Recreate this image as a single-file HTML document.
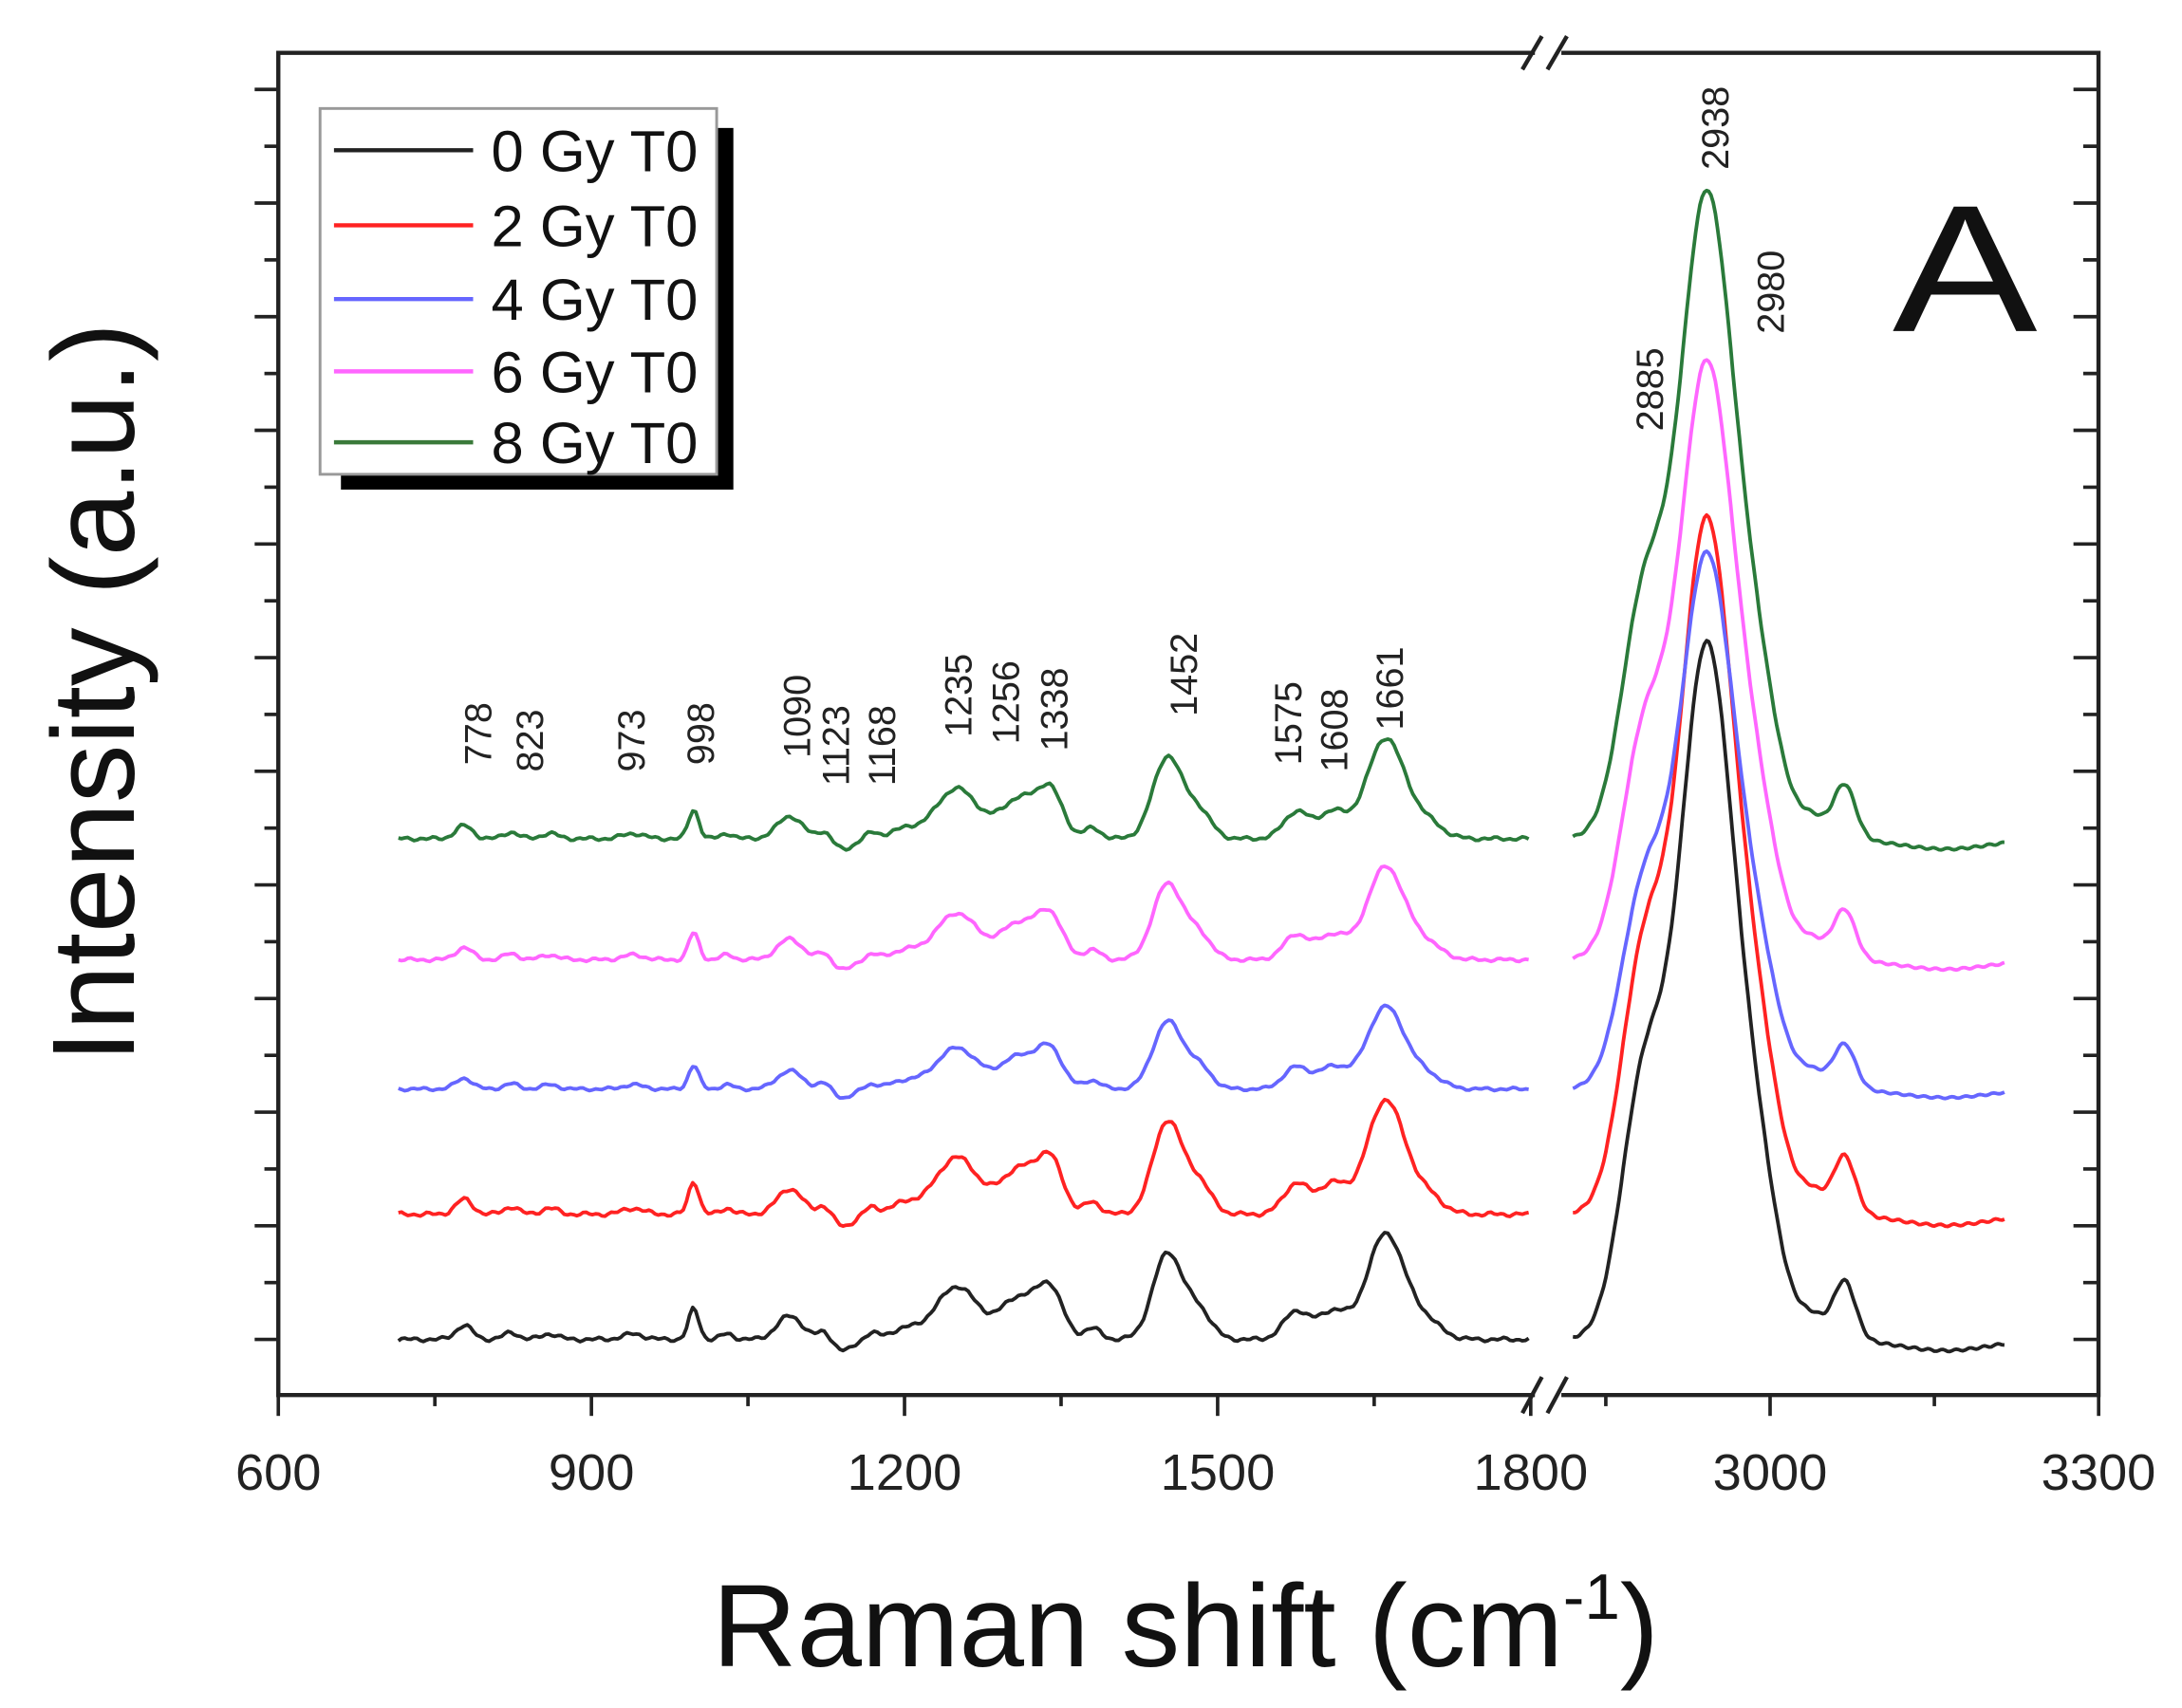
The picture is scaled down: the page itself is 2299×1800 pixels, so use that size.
<!DOCTYPE html>
<html><head><meta charset="utf-8"><style>
html,body{margin:0;padding:0;background:#fff;}
svg{display:block;font-family:"Liberation Sans",Arial,sans-serif;}
</style></head><body>
<svg id="s" width="2299" height="1800" viewBox="0 0 1568 1228" preserveAspectRatio="none" xmlns="http://www.w3.org/2000/svg">
<rect width="1568" height="1228" fill="#fff"/>
<g id="curves" fill="none" stroke-width="2.6" stroke-linejoin="round"></g>
<g id="axes" stroke="#222" fill="none"></g>
<g stroke="#222" stroke-width="3" fill="none">
<path d="M1103 38 H200 V1003 H1103"/>
<path d="M1122 38 H1508 V1003 H1122"/>
</g>
<g stroke="#222" stroke-width="3">
<line x1="1094" y1="50" x2="1108" y2="26"/><line x1="1112" y1="50" x2="1126" y2="26"/>
<line x1="1094" y1="1016" x2="1108" y2="990"/><line x1="1112" y1="1016" x2="1126" y2="990"/>
</g>
<g font-size="37" fill="#222" text-anchor="middle">
<text x="200" y="1071">600</text><text x="425" y="1071">900</text><text x="650" y="1071">1200</text>
<text x="875" y="1071">1500</text><text x="1100" y="1071">1800</text><text x="1272" y="1071">3000</text><text x="1508" y="1071">3300</text>
</g>
<text x="852" y="1198" font-size="84" text-anchor="middle" fill="#111">Raman shift (cm<tspan dy="-34" font-size="46">-1</tspan><tspan dy="34">)</tspan></text>
<text transform="translate(96,498) rotate(-90)" font-size="84" text-anchor="middle" fill="#111">Intensity (a.u.)</text>
<text transform="translate(1412,238) scale(1.2,1)" font-size="130" text-anchor="middle" fill="#111">A</text>
<rect x="245" y="92" width="282" height="260" fill="#000"/>
<rect x="230" y="78" width="285" height="263" fill="#fff" stroke="#999" stroke-width="2"/>
<g stroke-width="3">
<line x1="240" y1="108" x2="340" y2="108" stroke="#222"/>
<line x1="240" y1="162" x2="340" y2="162" stroke="#f22"/>
<line x1="240" y1="215" x2="340" y2="215" stroke="#66f"/>
<line x1="240" y1="267" x2="340" y2="267" stroke="#f6f"/>
<line x1="240" y1="318" x2="340" y2="318" stroke="#3a7a3a"/>
</g>
<g font-size="42" fill="#111">
<text x="353" y="123">0 Gy T0</text><text x="353" y="177">2 Gy T0</text><text x="353" y="230">4 Gy T0</text>
<text x="353" y="282">6 Gy T0</text><text x="353" y="333">8 Gy T0</text>
</g>
<g id="labels" font-size="27" fill="#222"></g>
<script>
var s='http://www.w3.org/2000/svg';
function el(p,t,a,tx){var e=document.createElementNS(s,t);for(var k in a)e.setAttribute(k,a[k]);if(tx)e.textContent=tx;document.getElementById(p).appendChild(e);return e;}
for(var i=0;i<=24;i++){var y=963-i*40.85;if(y<40)break;var mj=i%2==0;
el('axes','line',{x1:mj?183:190,y1:y,x2:200,y2:y,'stroke-width':2.5});
el('axes','line',{x1:1508,y1:y,x2:mj?1490:1497,y2:y,'stroke-width':2.5});}
for(var v=600;v<=1800;v+=150){var x=200+(v-600)*0.75;var mj=(v%300==0);el('axes','line',{x1:x,y1:1003,x2:x,y2:mj?1018:1011,'stroke-width':2.5});}
[2850,3000,3150,3300].forEach(function(v){var x=1272+(v-3000)*0.787;var mj=(v%300==0);el('axes','line',{x1:x,y1:1003,x2:x,y2:mj?1018:1011,'stroke-width':2.5});});
function g(x,c,w){return Math.exp(-(x-c)*(x-c)/(2*w*w));}
var L=[[778,10,8],[823,5,7],[860,4,8],[940,4,10],[998,22,5],[1030,4,6],[1090,17,12],[1123,6,6],[1142,-8,9],[1168,4,6],[1200,7,15],[1250,38,20],[1310,30,18],[1340,33,12],[1380,8,8],[1452,62,14],[1482,20,12],[1575,20,12],[1610,20,14],[1661,76,18],[1700,12,15]];
var R=[[2885,180,21],[2941,480,24],[2985,120,22],[3068,42,10],[3040,14,12]];
var ser=[[963,'#222',1,1,0],[873,'#f22',1.08,1.0,1],[783,'#66f',0.78,0.77,2],[690,'#f6f',0.88,0.86,3],[603,'#2a7a3a',0.95,0.93,4]];
ser.forEach(function(S){var b=S[0],sl=S[2],sr=S[3],k=S[4];var d='';
for(var v=715;v<=1800;v+=3){var h=0;L.forEach(function(p){h+=p[1]*g(v,p[0],p[2]);});h+=0.8*Math.sin(v*0.5+k)+0.8*Math.sin(v*0.21+2*k);
var x=200+(v-600)*0.75,y=b-h*sl;d+=(v==715?'M':'L')+x.toFixed(1)+' '+y.toFixed(1);}
el('curves','path',{d:d,stroke:S[1]});d='';
for(var v=2820;v<=3215;v+=2){var h=0;R.forEach(function(p){h+=p[1]*g(v,p[0],p[2]);});h-=8*g(v,3160,40);h+=0.8*Math.sin(v*0.5+k);
var x=1272+(v-3000)*0.787,y=b-h*sr;d+=(v==2820?'M':'L')+x.toFixed(1)+' '+y.toFixed(1);}
el('curves','path',{d:d,stroke:S[1]});});
var lab=[['778',343,550],['823',380,555],['973',453,555],['998',503,550],['1090',572,545],['1123',600,565],['1168',633,565],['1235',688,530],['1256',722,535],['1338',757,540],['1452',850,515],['1575',925,550],['1608',958,555],['1661',998,525],['2885',1185,310],['2938',1232,122],['2980',1272,240]];
lab.forEach(function(l){el('labels','text',{transform:'translate('+(l[1]+10)+','+l[2]+') rotate(-90)'},l[0]);});
</script>
</svg>
</body></html>
